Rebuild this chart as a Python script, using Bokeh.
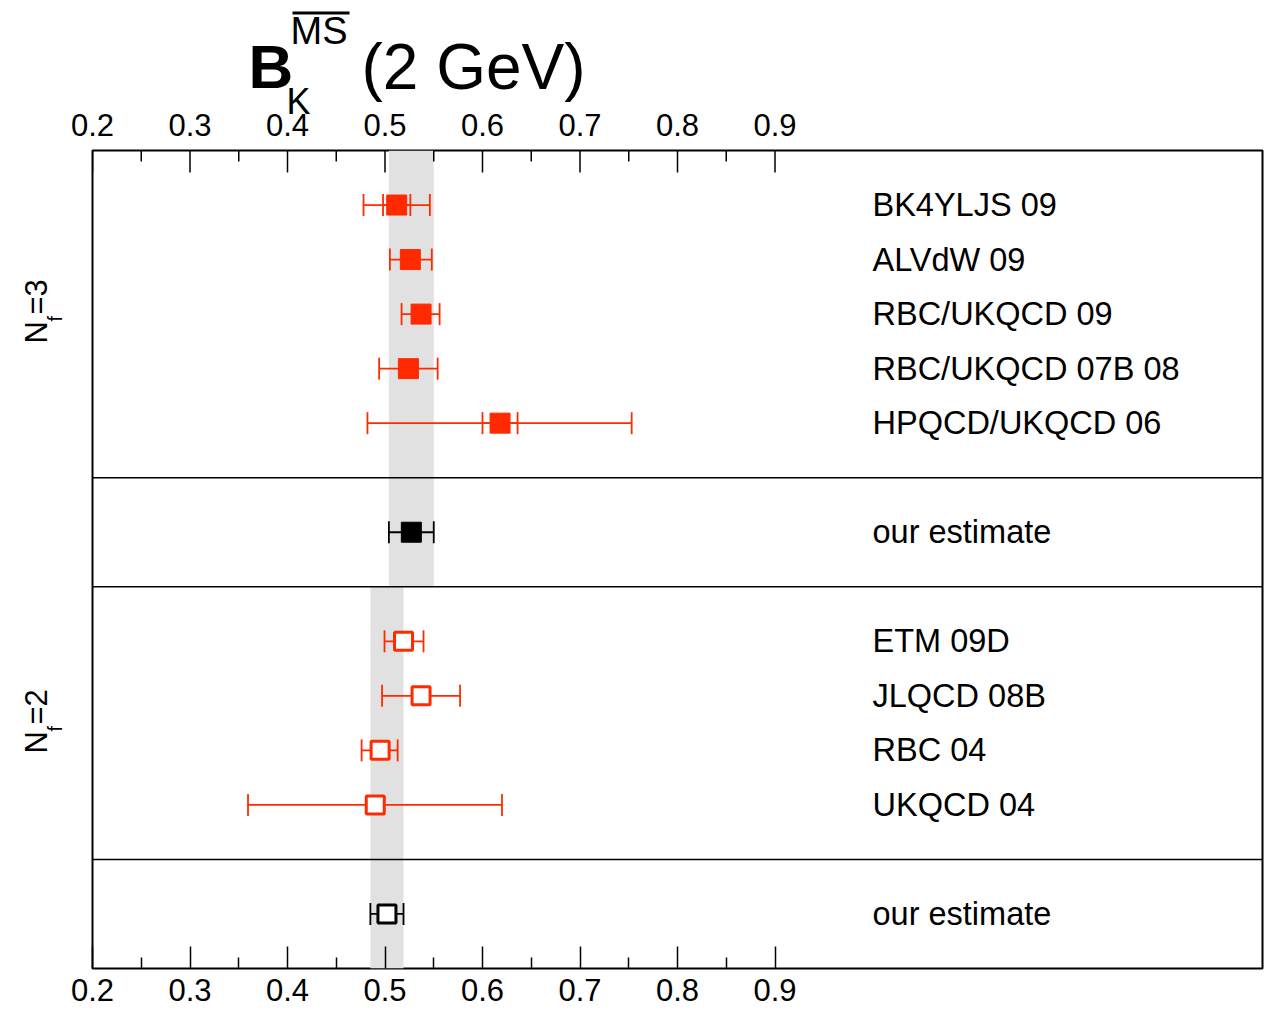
from math import pi
from bokeh.plotting import figure
from bokeh.layouts import column, row
from bokeh.models import (Range1d, FixedTicker, ColumnDataSource, Whisker, TeeHead, Span)
from bokeh.core.properties import value
from bokeh.embed import file_html
from bokeh.resources import INLINE

# ---------------- data ----------------
nf3_labels = ["BK4YLJS 09", "ALVdW 09", "RBC/UKQCD 09", "RBC/UKQCD 07B 08", "HPQCD/UKQCD 06"]
nf3_values = [0.512, 0.526, 0.537, 0.524, 0.618]
nf3_lower = [0.478, 0.505, 0.517, 0.494, 0.482]
nf3_upper = [0.546, 0.548, 0.556, 0.554, 0.753]

stat_labels = ["BK4YLJS 09", "HPQCD/UKQCD 06"]
stat_lower = [0.498, 0.600]
stat_upper = [0.526, 0.636]

nf3_estimate = 0.527
nf3_est_lower = 0.504
nf3_est_upper = 0.550

nf2_labels = ["ETM 09D", "JLQCD 08B", "RBC 04", "UKQCD 04"]
nf2_values = [0.519, 0.537, 0.495, 0.490]
nf2_lower = [0.4995, 0.497, 0.476, 0.3595]
nf2_upper = [0.5395, 0.577, 0.513, 0.620]

nf2_estimate = 0.502
nf2_est_lower = 0.485
nf2_est_upper = 0.519

tick_values = [0.2, 0.3, 0.4, 0.5, 0.6, 0.7, 0.8, 0.9]
tick_labels = ["0.2", "0.3", "0.4", "0.5", "0.6", "0.7", "0.8", "0.9"]
minor_values = [0.25, 0.35, 0.45, 0.55, 0.65, 0.75, 0.85]

# ---------------- layout / style ----------------
RED = "#ff2a00"
BAND = "#e1e1e1"
FONT = "Liberation Sans"
nf3_rows = [1, 2, 3, 4, 5]
nf3_est_row = 7
nf2_rows = [9, 10, 11, 12]
nf2_est_row = 14
separators = [6, 8, 13]

W, H = 1264, 1015
FRAME_L, FRAME_R, FRAME_T, FRAME_B = 92, 1262, 150, 968
X0, X1 = 0.2, 1.4
Y0, Y1 = 15, 0
TITLE_H = 146
LEFT_W = 64
px_per_x = (FRAME_R - FRAME_L) / (X1 - X0)


def dx(px):
    return X0 + (px - FRAME_L) / px_per_x


def bare(fig):
    fig.xgrid.visible = False
    fig.ygrid.visible = False
    fig.outline_line_color = None
    fig.background_fill_color = "white"
    fig.border_fill_color = "white"
    fig.min_border = 0


# ---------------- main figure ----------------
MAIN_W, MAIN_H = W - LEFT_W, H - TITLE_H
p = figure(width=MAIN_W, height=MAIN_H, x_range=Range1d(X0, X1), y_range=Range1d(Y0, Y1),
           output_backend="svg", toolbar_location=None, y_axis_location=None,
           min_border_left=FRAME_L - LEFT_W, min_border_right=W - FRAME_R,
           min_border_top=FRAME_T - TITLE_H, min_border_bottom=H - FRAME_B)
p.xgrid.visible = False
p.ygrid.visible = False
p.outline_line_color = "black"
p.outline_line_width = 2
p.background_fill_color = "white"
p.border_fill_color = "white"

ax = p.xaxis[0]
ax.ticker = FixedTicker(ticks=tick_values, minor_ticks=minor_values)
ax.major_label_overrides = {v: s for v, s in zip(tick_values, tick_labels)}
ax.major_tick_in = 22
ax.major_tick_out = 0
ax.minor_tick_in = 11
ax.minor_tick_out = 0
ax.major_tick_line_color = "black"
ax.minor_tick_line_color = "black"
ax.major_tick_line_width = 1.5
ax.minor_tick_line_width = 1.5
ax.axis_line_color = None
ax.major_label_text_font = FONT
ax.major_label_text_font_size = "31px"
ax.major_label_text_color = "black"
ax.major_label_standoff = 10

# ticks along the top edge of the frame (half of each dash is clipped by the frame)
p.scatter(x=tick_values, y=[Y1] * len(tick_values), marker="dash", angle=pi / 2,
          size=44, line_color="black", line_width=1.5)
p.scatter(x=minor_values, y=[Y1] * len(minor_values), marker="dash", angle=pi / 2,
          size=22, line_color="black", line_width=1.5)

band = p.quad(left=[nf3_est_lower, nf2_est_lower], right=[nf3_est_upper, nf2_est_upper],
              top=[0, separators[1]], bottom=[separators[1], 15],
              fill_color=BAND, line_color=None)
band.level = "image"

for s in separators:
    p.add_layout(Span(location=s, dimension="width", line_color="black", line_width=1.5))


def whisker(lower, upper, rows, color):
    src = ColumnDataSource(dict(lo=lower, hi=upper, y=rows))
    w = Whisker(source=src, base="y", lower="lo", upper="hi", dimension="width",
                line_color=color, line_width=1.8,
                lower_head=TeeHead(size=22, line_color=color, line_width=1.8),
                upper_head=TeeHead(size=22, line_color=color, line_width=1.8))
    w.level = "underlay"
    p.add_layout(w)


whisker(nf3_lower, nf3_upper, nf3_rows, RED)
stat_rows = [nf3_rows[nf3_labels.index(s)] for s in stat_labels]
whisker(stat_lower, stat_upper, stat_rows, RED)
whisker([nf3_est_lower], [nf3_est_upper], [nf3_est_row], "black")
whisker(nf2_lower, nf2_upper, nf2_rows, RED)
whisker([nf2_est_lower], [nf2_est_upper], [nf2_est_row], "black")

p.scatter(x=nf3_values, y=nf3_rows, marker="square", size=20,
          fill_color=RED, line_color=RED, line_width=1)
p.scatter(x=[nf3_estimate], y=[nf3_est_row], marker="square", size=20,
          fill_color="black", line_color="black", line_width=1)
p.scatter(x=nf2_values, y=nf2_rows, marker="square", size=18,
          fill_color="white", line_color=RED, line_width=3)
p.scatter(x=[nf2_estimate], y=[nf2_est_row], marker="square", size=18,
          fill_color="white", line_color="black", line_width=3)

row_text = nf3_labels + ["our estimate"] + nf2_labels + ["our estimate"]
row_y = nf3_rows + [nf3_est_row] + nf2_rows + [nf2_est_row]
p.text(x=[1.0] * len(row_text), y=row_y, text=row_text,
       text_font=value(FONT), text_font_size="32.5px", text_color="black",
       text_align="left", text_baseline="middle")

# ---------------- title strip (same x scale as the main plot) ----------------
t = figure(width=W, height=TITLE_H, x_range=Range1d(dx(0), dx(W)), y_range=Range1d(TITLE_H, 0),
           output_backend="svg", toolbar_location=None,
           x_axis_location=None, y_axis_location=None)
bare(t)
# top-edge tick labels
t.text(x=tick_values, y=[124.5] * len(tick_values), text=tick_labels,
       text_font=value(FONT), text_font_size="31px", text_color="black",
       text_align="center", text_baseline="middle")


def ttext(px, py, txt, size, bold=False):
    t.text(x=[dx(px)], y=[py], text=[txt], text_font=value(FONT),
           text_font_size=f"{size}px", text_color="black",
           text_font_style="bold" if bold else "normal",
           text_align="left", text_baseline="middle")


ttext(248, 66, "B", 62, bold=True)
ttext(286, 101, "K", 36)
ttext(290, 30.5, "MS", 38)
ttext(361, 66, "(2 GeV)", 64)
t.segment(x0=[dx(292)], x1=[dx(349)], y0=[12.5], y1=[12.5], line_color="black", line_width=3)

# ---------------- left strip: N_f group labels ----------------
# in a row, this strip's frame is aligned with the main frame (canvas y 150..968)
lf = figure(width=LEFT_W, height=MAIN_H, x_range=Range1d(0, LEFT_W),
            y_range=Range1d(FRAME_B, FRAME_T),
            output_backend="svg", toolbar_location=None,
            x_axis_location=None, y_axis_location=None)
bare(lf)
for n_base, f_base, eq_base, eq_txt in [(343, 321, 314, "=3"), (753, 731, 724, "=2")]:
    for px, py, txt, size in [(36, n_base, "N", 31), (54, f_base, "f", 20), (36, eq_base, eq_txt, 31)]:
        lf.text(x=[px], y=[py], text=[txt], angle=pi / 2, text_font=value(FONT),
                text_font_size=f"{size}px", text_color="black",
                text_align="left", text_baseline="middle")

layout = column(t, row(lf, p, spacing=0), spacing=0)
open("out.html", "w").write(file_html(layout, INLINE))
